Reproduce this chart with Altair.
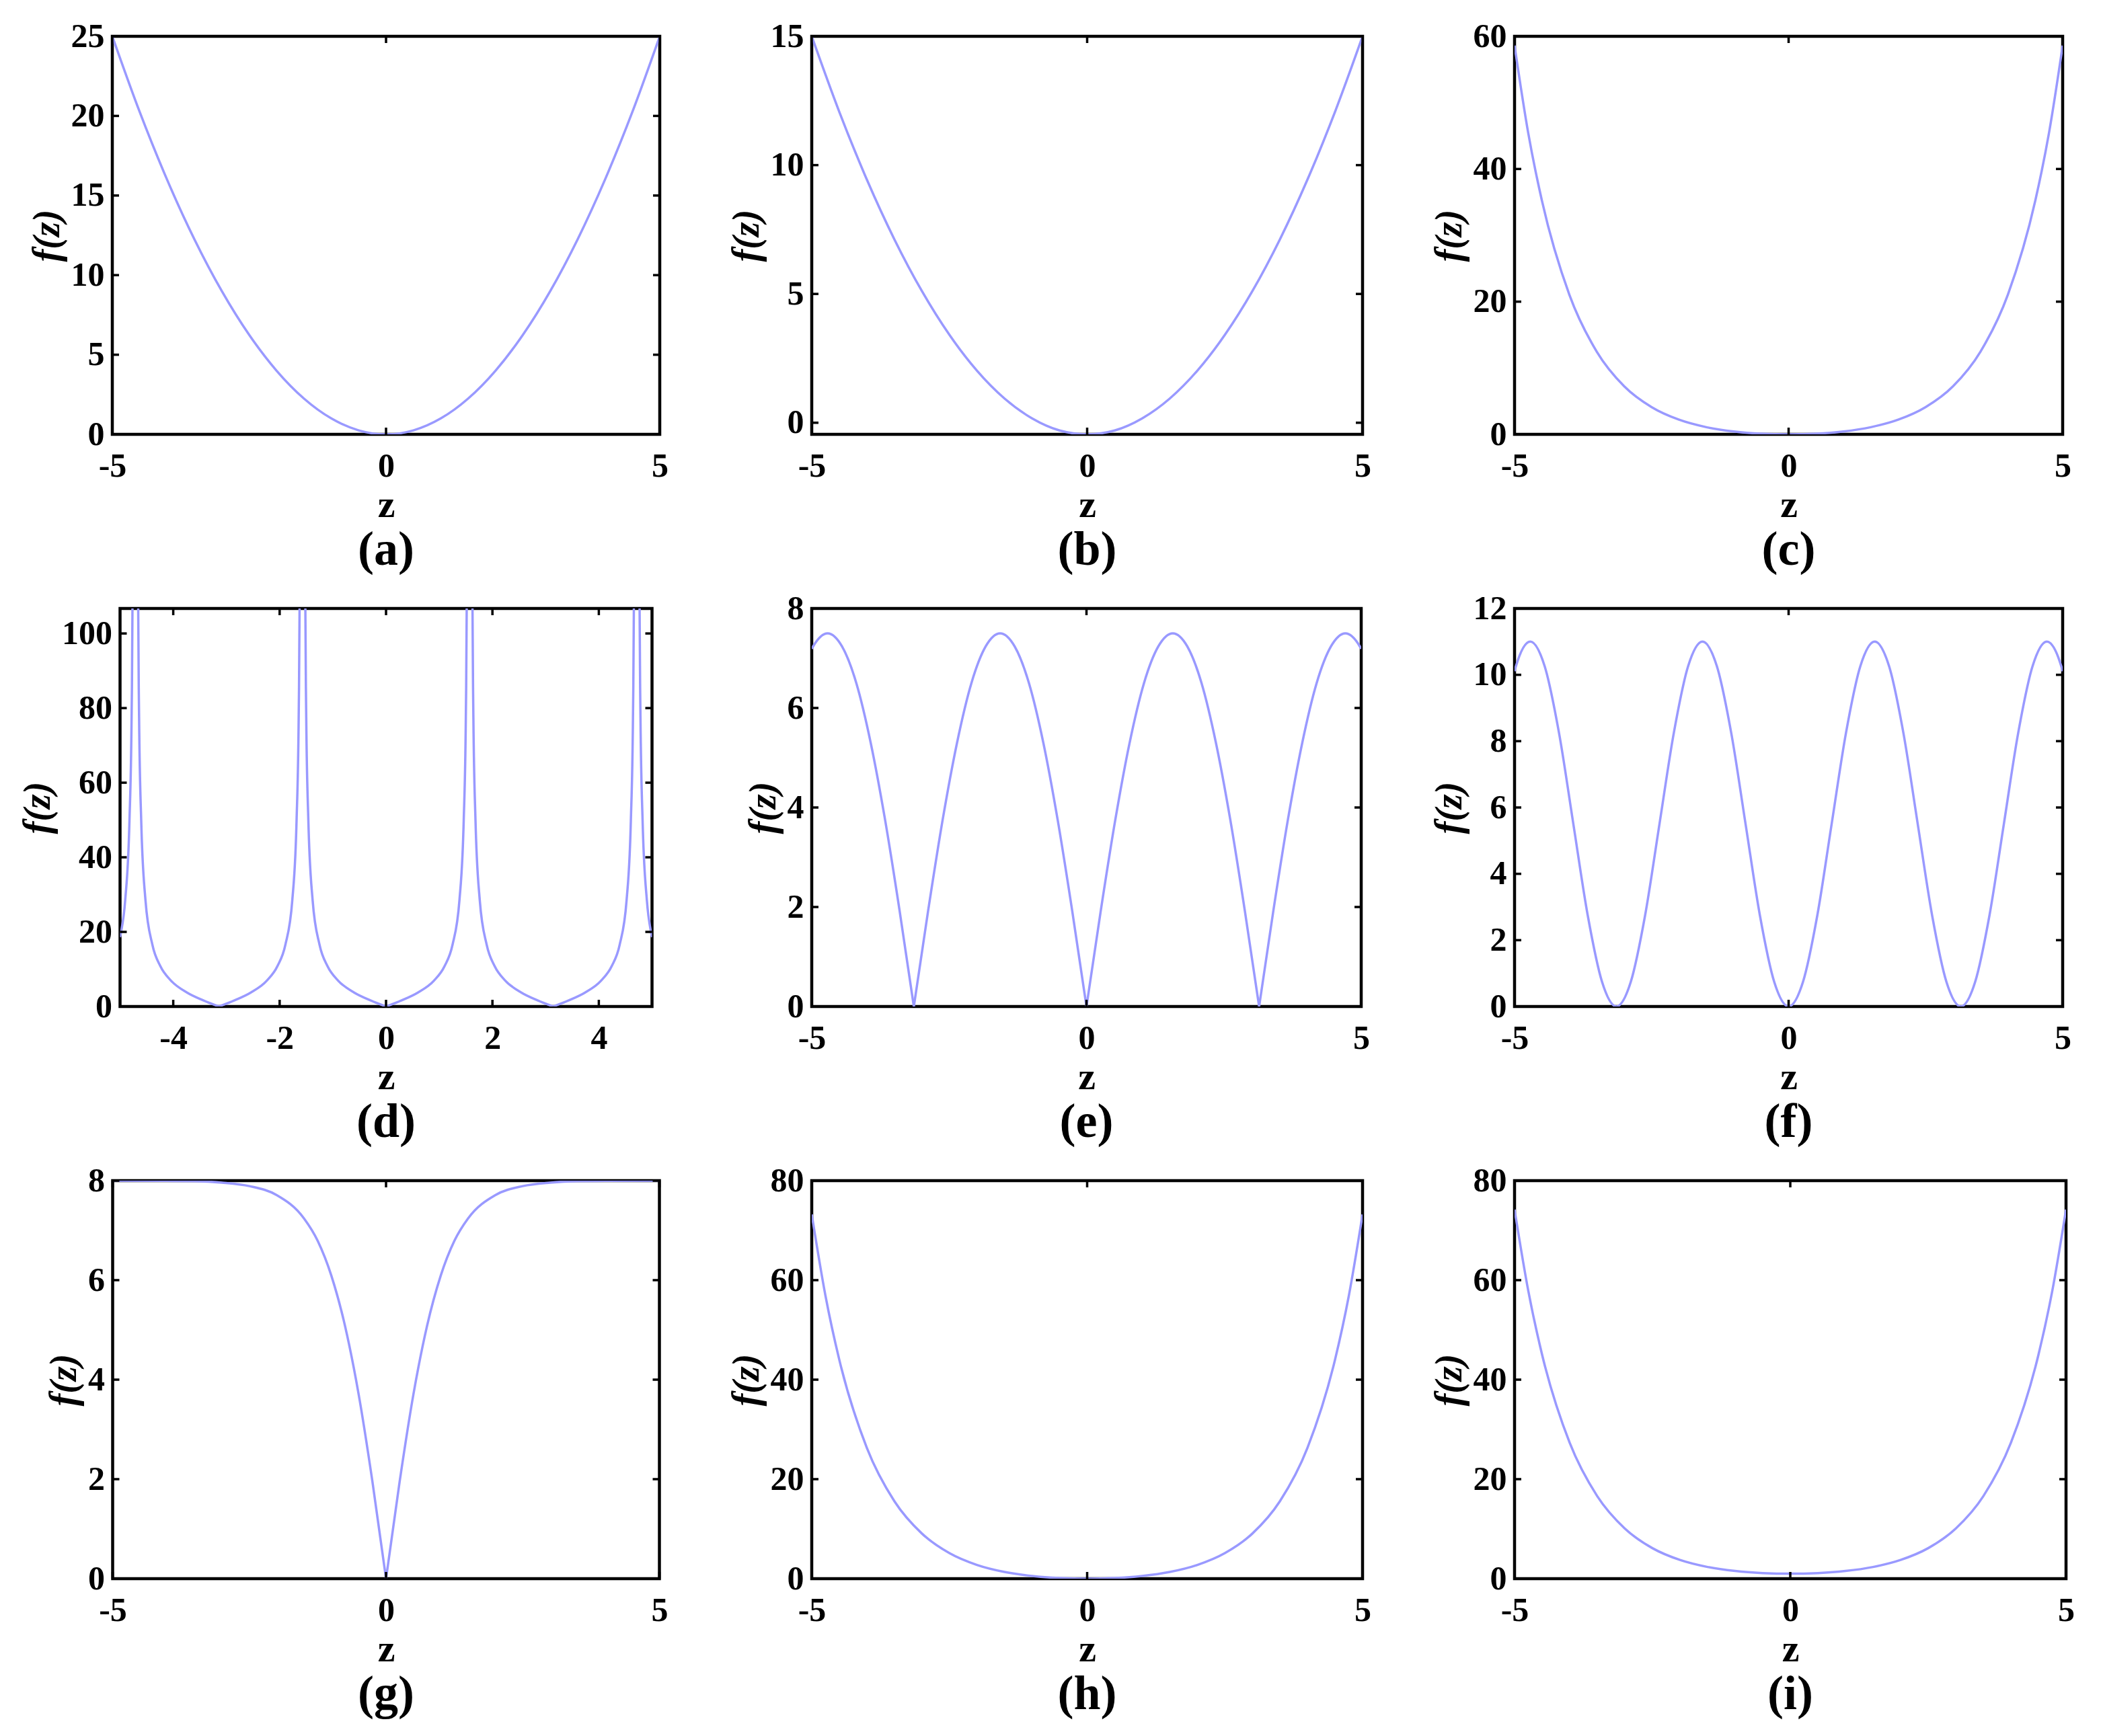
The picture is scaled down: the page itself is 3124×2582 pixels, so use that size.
import altair as alt
import pandas as pd

FONT = "Liberation Serif"
BLUE = "#9999ff"

# ---------------- data ----------------
# (a)
A_Z = [-5, -4.5, -4, -3.5, -3, -2.5, -2, -1.5, -1, -0.5, 0, 0.5, 1, 1.5, 2, 2.5, 3, 3.5, 4, 4.5, 5]
A_F = [25, 20.25, 16, 12.25, 9, 6.25, 4, 2.25, 1, 0.25, 0, 0.25, 1, 2.25, 4, 6.25, 9, 12.25, 16, 20.25, 25]

# (b)
B_Z = [-5, -4.5, -4, -3.5, -3, -2.5, -2, -1.5, -1, -0.5, 0, 0.5, 1, 1.5, 2, 2.5, 3, 3.5, 4, 4.5, 5]
B_F = [15.0, 12.07, 9.44, 7.12, 5.11, 3.41, 2.02, 0.94, 0.17, -0.30, -0.45, -0.30, 0.17, 0.94, 2.02, 3.41, 5.11, 7.12, 9.44, 12.07, 15.0]

# (c)
C_Z = [-5, -4.75, -4.5, -4, -3.5, -3, -2.5, -2, -1.5, -1, -0.5, 0, 0.5, 1, 1.5, 2, 2.5, 3, 3.5, 4, 4.5, 4.75, 5]
C_F = [58.6, 45.4, 35.2, 21.05, 12.46, 7.25, 4.11, 2.21, 1.08, 0.43, 0.10, 0, 0.10, 0.43, 1.08, 2.21, 4.11, 7.25, 12.46, 21.05, 35.2, 45.4, 58.6]

# (d)  segments separated at the zeros and the poles
D_Z = [-5.0, -4.983, -4.903, -4.823, -4.783, -4.753, -4.733,
       -4.692, -4.672, -4.642, -4.602, -4.522, -4.392, -4.242, -4.042, -3.742, -3.442, -3.142,
       -3.142, -2.842, -2.542, -2.242, -2.042, -1.892, -1.762, -1.682, -1.642, -1.612, -1.592,
       -1.55, -1.53, -1.5, -1.46, -1.38, -1.25, -1.1, -0.9, -0.6, -0.3, 0.0,
       0.0, 0.3, 0.6, 0.9, 1.1, 1.25, 1.38, 1.46, 1.5, 1.53, 1.55,
       1.592, 1.612, 1.642, 1.682, 1.762, 1.892, 2.042, 2.242, 2.542, 2.842, 3.142,
       3.142, 3.442, 3.742, 4.042, 4.242, 4.392, 4.522, 4.602, 4.642, 4.672, 4.692,
       4.733, 4.753, 4.783, 4.823, 4.903, 4.983, 5.0]
D_F = [18.6, 19.81, 28.48, 49.74, 77.56, 134.7, 264.4,
       264.4, 134.7, 77.56, 49.74, 28.48, 16.55, 10.81, 6.93, 3.76, 1.70, 0,
       0, 1.70, 3.76, 6.93, 10.81, 16.55, 28.48, 49.74, 77.56, 134.7, 264.4,
       264.4, 134.7, 77.56, 49.74, 28.48, 16.55, 10.81, 6.93, 3.76, 1.70, 0,
       0, 1.70, 3.76, 6.93, 10.81, 16.55, 28.48, 49.74, 77.56, 134.7, 264.4,
       264.4, 134.7, 77.56, 49.74, 28.48, 16.55, 10.81, 6.93, 3.76, 1.70, 0,
       0, 1.70, 3.76, 6.93, 10.81, 16.55, 28.48, 49.74, 77.56, 134.7, 264.4,
       264.4, 134.7, 77.56, 49.74, 28.48, 19.81, 18.6]
D_S = ["1"] * 7 + ["2"] * 11 + ["3"] * 11 + ["4"] * 11 + ["5"] * 11 + ["6"] * 11 + ["7"] * 11 + ["8"] * 7

# (e)  segments separated at the cusps
E_Z = [-5.0, -4.974, -4.712, -4.451, -4.189, -3.927, -3.665, -3.403, -3.142,
       -3.142, -2.880, -2.618, -2.356, -2.094, -1.833, -1.571, -1.309, -1.047, -0.785, -0.524, -0.262, 0.0,
       0.0, 0.262, 0.524, 0.785, 1.047, 1.309, 1.571, 1.833, 2.094, 2.356, 2.618, 2.880, 3.142,
       3.142, 3.403, 3.665, 3.927, 4.189, 4.451, 4.712, 4.974, 5.0]
E_F = [7.19, 7.24, 7.5, 7.24, 6.50, 5.30, 3.75, 1.94, 0,
       0, 1.94, 3.75, 5.30, 6.50, 7.24, 7.5, 7.24, 6.50, 5.30, 3.75, 1.94, 0,
       0, 1.94, 3.75, 5.30, 6.50, 7.24, 7.5, 7.24, 6.50, 5.30, 3.75, 1.94, 0,
       0, 1.94, 3.75, 5.30, 6.50, 7.24, 7.5, 7.24, 7.19]
E_S = ["1"] * 9 + ["2"] * 13 + ["3"] * 13 + ["4"] * 9

# (f)
F_Z = [-5.0, -4.974, -4.712, -4.451, -4.189, -3.927, -3.665, -3.403, -3.142,
       -2.880, -2.618, -2.356, -2.094, -1.833, -1.571, -1.309, -1.047, -0.785, -0.524, -0.262, 0.0,
       0.262, 0.524, 0.785, 1.047, 1.309, 1.571, 1.833, 2.094, 2.356, 2.618, 2.880, 3.142,
       3.403, 3.665, 3.927, 4.189, 4.451, 4.712, 4.974, 5.0]
F_F = [10.11, 10.26, 11.0, 10.26, 8.25, 5.5, 2.75, 0.74, 0,
       0.74, 2.75, 5.5, 8.25, 10.26, 11.0, 10.26, 8.25, 5.5, 2.75, 0.74, 0,
       0.74, 2.75, 5.5, 8.25, 10.26, 11.0, 10.26, 8.25, 5.5, 2.75, 0.74, 0,
       0.74, 2.75, 5.5, 8.25, 10.26, 11.0, 10.26, 10.11]

# (g)
G_Z = [-5, -4, -3.5, -3, -2.5, -2, -1.5, -1.25, -1, -0.75, -0.5, -0.25, 0,
       0, 0.25, 0.5, 0.75, 1, 1.25, 1.5, 2, 2.5, 3, 3.5, 4, 5]
G_F = [8.0, 7.995, 7.99, 7.96, 7.89, 7.71, 7.24, 6.79, 6.09, 5.08, 3.70, 1.96, 0,
       0, 1.96, 3.70, 5.08, 6.09, 6.79, 7.24, 7.71, 7.89, 7.96, 7.99, 7.995, 8.0]
G_S = ["1"] * 13 + ["2"] * 13

# (h)
H_Z = [-5, -4.75, -4.5, -4, -3.5, -3, -2.5, -2, -1.5, -1, -0.5, 0, 0.5, 1, 1.5, 2, 2.5, 3, 3.5, 4, 4.5, 4.75, 5]
H_F = [73.2, 56.8, 44.0, 26.3, 15.57, 9.07, 5.13, 2.76, 1.35, 0.54, 0.13, 0, 0.13, 0.54, 1.35, 2.76, 5.13, 9.07, 15.57, 26.3, 44.0, 56.8, 73.2]

# (i)
I_Z = [-5, -4.75, -4.5, -4, -3.5, -3, -2.5, -2, -1.5, -1, -0.5, 0, 0.5, 1, 1.5, 2, 2.5, 3, 3.5, 4, 4.5, 4.75, 5]
I_F = [74.2, 57.8, 45.0, 27.3, 16.57, 10.07, 6.13, 3.76, 2.35, 1.54, 1.13, 1.0, 1.13, 1.54, 2.35, 3.76, 6.13, 10.07, 16.57, 27.3, 45.0, 57.8, 74.2]

# axis tick values
X_TICKS = [-5, 0, 5]
D_X_TICKS = [-4, -2, 0, 2, 4]
A_Y_TICKS = [0, 5, 10, 15, 20, 25]
B_Y_TICKS = [0, 5, 10, 15]
C_Y_TICKS = [0, 20, 40, 60]
D_Y_TICKS = [0, 20, 40, 60, 80, 100]
E_Y_TICKS = [0, 2, 4, 6, 8]
F_Y_TICKS = [0, 2, 4, 6, 8, 10, 12]
G_Y_TICKS = [0, 2, 4, 6, 8]
H_Y_TICKS = [0, 20, 40, 60, 80]
I_Y_TICKS = [0, 20, 40, 60, 80]

LABELS = ["(a)", "(b)", "(c)", "(d)", "(e)", "(f)", "(g)", "(h)", "(i)"]

# ---------------- styling ----------------
H = 592
TL = 10          # inward tick length
TW = 3.5         # tick stroke width
TICK_FS = 50
XT_FS = 58
YT_FS = 56
LAB_FS = 72
MINUS = "replace(datum.label, '\u2212', '-')"


def panel(zs, fs, segs, ydom, xticks, yticks, label, width):
    df = pd.DataFrame({"z": zs, "f": fs, "s": segs if segs else ["0"] * len(zs)})
    xs = alt.Scale(domain=[-5, 5], nice=False, zero=False)
    ys = alt.Scale(domain=ydom, nice=False, zero=False)
    xaxis = alt.Axis(values=xticks, title="z", labelExpr=MINUS, ticks=False, tickSize=0,
                     domain=False, grid=False, labelFlush=False, labelPadding=22,
                     labelFont=FONT, labelFontSize=TICK_FS, labelFontWeight="bold", labelColor="black",
                     titleFont=FONT, titleFontSize=XT_FS, titleFontWeight="bold", titleColor="black",
                     titlePadding=4)
    yaxis = alt.Axis(values=yticks, title="f(z)", labelExpr=MINUS, ticks=False, tickSize=0,
                     domain=False, grid=False, labelFlush=False, labelPadding=12,
                     labelFont=FONT, labelFontSize=TICK_FS, labelFontWeight="bold", labelColor="black",
                     titleFont=FONT, titleFontSize=YT_FS, titleFontWeight="bold", titleFontStyle="italic",
                     titleColor="black", titlePadding=6)
    X = alt.X("z:Q", scale=xs, axis=xaxis)
    Y = alt.Y("f:Q", scale=ys, axis=yaxis)
    line = alt.Chart(df).mark_line(color=BLUE, strokeWidth=3.5, interpolate="monotone", clip=True).encode(
        x=X, y=Y, detail="s:N",
    )
    xt = pd.DataFrame({"z": xticks})
    yt = pd.DataFrame({"f": yticks})
    rule = dict(color="black", strokeWidth=TW)
    bottom = alt.Chart(xt).mark_rule(**rule).encode(x=X, y=alt.value(H), y2=alt.value(H - TL))
    top = alt.Chart(xt).mark_rule(**rule).encode(x=X, y=alt.value(0), y2=alt.value(TL))
    left = alt.Chart(yt).mark_rule(**rule).encode(y=Y, x=alt.value(0), x2=alt.value(TL))
    right = alt.Chart(yt).mark_rule(**rule).encode(y=Y, x=alt.value(width), x2=alt.value(width - TL))
    return alt.layer(line, bottom, top, left, right).properties(
        width=width, height=H,
        title=alt.TitleParams(text=label, orient="bottom", anchor="middle", font=FONT,
                              fontSize=LAB_FS, fontWeight="bold", color="black", offset=3),
    )


panels = [
    panel(A_Z, A_F, None, [0, 25], X_TICKS, A_Y_TICKS, LABELS[0], 814),
    panel(B_Z, B_F, None, [-0.45, 15], X_TICKS, B_Y_TICKS, LABELS[1], 819),
    panel(C_Z, C_F, None, [0, 60], X_TICKS, C_Y_TICKS, LABELS[2], 815),
    panel(D_Z, D_F, D_S, [0, 106.7], D_X_TICKS, D_Y_TICKS, LABELS[3], 791),
    panel(E_Z, E_F, E_S, [0, 8], X_TICKS, E_Y_TICKS, LABELS[4], 817),
    panel(F_Z, F_F, None, [0, 12], X_TICKS, F_Y_TICKS, LABELS[5], 815),
    panel(G_Z, G_F, G_S, [0, 8], X_TICKS, G_Y_TICKS, LABELS[6], 813),
    panel(H_Z, H_F, None, [0, 80], X_TICKS, H_Y_TICKS, LABELS[7], 819),
    panel(I_Z, I_F, None, [0, 80], X_TICKS, I_Y_TICKS, LABELS[8], 820),
]

chart = alt.concat(*panels, columns=3, bounds="flush", center=True,
                   spacing={"row": 259, "column": 226}).properties(
    padding={"left": 18, "top": 18, "right": 5, "bottom": 5},
    background="white",
).configure_view(stroke="black", strokeWidth=4.5)

chart.save("out.html", embed_options={"renderer": "svg", "actions": False})
